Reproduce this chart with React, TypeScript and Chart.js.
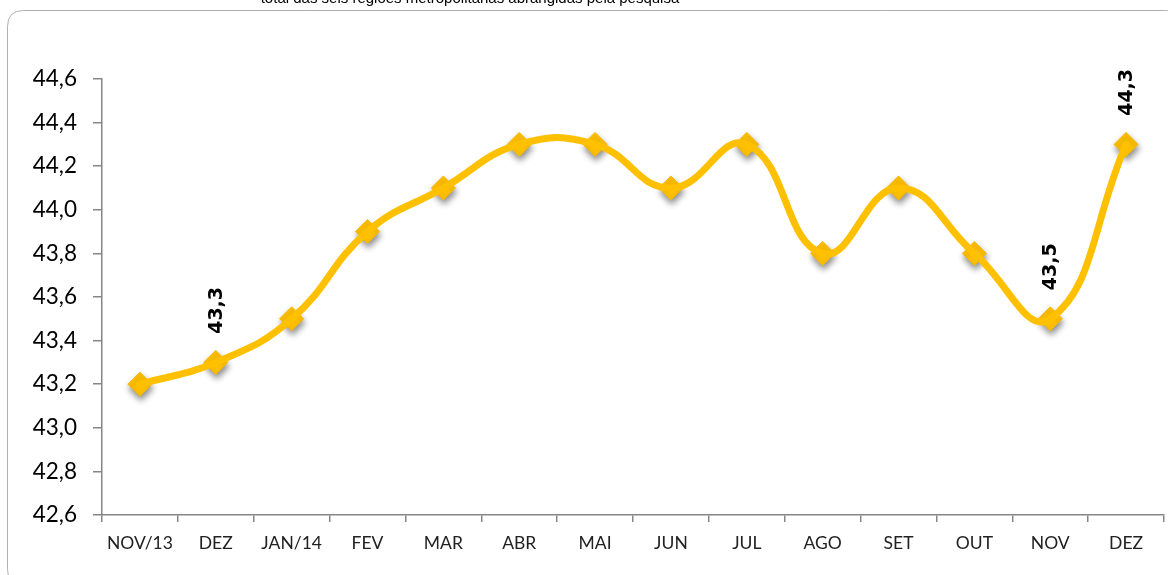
import React, { useEffect, useRef } from "react";
import { Chart, registerables } from "chart.js";

Chart.register(...registerables);

const categories = ["NOV/13", "DEZ", "JAN/14", "FEV", "MAR", "ABR", "MAI", "JUN", "JUL", "AGO", "SET", "OUT", "NOV", "DEZ"];
const values = [43.2, 43.3, 43.5, 43.9, 44.1, 44.3, 44.3, 44.1, 44.3, 43.8, 44.1, 43.8, 43.5, 44.3];
const labeledIndexes = [1, 12, 13];
const yMin = 42.6;
const yMax = 44.6;
const yStep = 0.2;
const titleText = "total das seis regiões metropolitanas abrangidas pela pesquisa";

const LINE_COLOR = "#FFC000";

const framePlugin = {
  id: "frame",
  beforeDraw(chart: any) {
    const ctx = chart.ctx;
    ctx.save();
    ctx.fillStyle = "#ffffff";
    ctx.fillRect(0, 0, chart.width, chart.height);
    const x = 7.5, y = 10.5, w = 1175, h = 575, r = 16;
    ctx.strokeStyle = "#b0b0b0";
    ctx.lineWidth = 1;
    ctx.beginPath();
    ctx.moveTo(x + r, y);
    ctx.lineTo(x + w - r, y);
    ctx.quadraticCurveTo(x + w, y, x + w, y + r);
    ctx.lineTo(x + w, y + h - r);
    ctx.quadraticCurveTo(x + w, y + h, x + w - r, y + h);
    ctx.lineTo(x + r, y + h);
    ctx.quadraticCurveTo(x, y + h, x, y + h - r);
    ctx.lineTo(x, y + r);
    ctx.quadraticCurveTo(x, y, x + r, y);
    ctx.stroke();
    ctx.fillStyle = "#000000";
    ctx.font = "15px 'Liberation Sans', Arial, sans-serif";
    ctx.textAlign = "center";
    ctx.textBaseline = "alphabetic";
    ctx.fillText(titleText, 470, 3);
    ctx.restore();
  },
  beforeDatasetDraw(chart: any, args: any) {
    if (args.index === 1) {
      const ctx = chart.ctx;
      ctx.save();
      ctx.shadowColor = "rgba(0,0,0,0.45)";
      ctx.shadowBlur = 6;
      ctx.shadowOffsetX = 1;
      ctx.shadowOffsetY = 4;
    }
  },
  afterDatasetDraw(chart: any, args: any) {
    if (args.index === 1) {
      chart.ctx.restore();
    }
  },
  afterDatasetsDraw(chart: any) {
    const ctx = chart.ctx;
    const meta = chart.getDatasetMeta(1);
    ctx.save();
    ctx.fillStyle = "#000000";
    ctx.font = "bold 19px 'DejaVu Sans', sans-serif";
    ctx.textAlign = "center";
    ctx.textBaseline = "middle";
    labeledIndexes.forEach((i) => {
      const pt = meta.data[i];
      const txt = values[i].toFixed(1).replace(".", ",");
      ctx.save();
      ctx.translate(pt.x + 1, pt.y - 52);
      ctx.rotate(-Math.PI / 2);
      ctx.fillText(txt, 0, 0);
      ctx.restore();
    });
    ctx.restore();
  },
};

export default function App() {
  const ref = useRef<HTMLCanvasElement>(null);

  useEffect(() => {
    const canvas = ref.current!;
    const chart = new Chart(canvas, {
      type: "line",
      data: {
        labels: categories,
        datasets: [
          {
            data: values,
            borderColor: LINE_COLOR,
            borderWidth: 7,
            tension: 0.45,
            pointRadius: 0,
            fill: false,
            borderCapStyle: "round",
            borderJoinStyle: "round",
          },
          {
            data: values,
            showLine: false,
            pointStyle: "rectRot",
            pointRadius: 12,
            pointBackgroundColor: "#FFC000",
            pointBorderColor: "#F7BA00",
            pointBorderWidth: 1,
          },
        ],
      },
      options: {
        animation: false,
        responsive: false,
        maintainAspectRatio: false,
        events: [],
        layout: { autoPadding: false, padding: { left: 0, right: 4, top: 79, bottom: 0 } },
        plugins: {
          legend: { display: false },
          title: { display: false },
          tooltip: { enabled: false },
        },
        scales: {
          x: {
            type: "category",
            offset: true,
            grid: {
              offset: true,
              drawOnChartArea: false,
              drawTicks: true,
              tickLength: 7,
              color: "#868686",
              lineWidth: 1.5,
            },
            border: { display: true, color: "#868686", width: 1.5 },
            ticks: {
              color: "#222222",
              font: { family: "Lato", size: 17.5 },
              padding: 11,
              maxRotation: 0,
              autoSkip: false,
            },
            afterFit: (s: any) => {
              s.height = 60;
            },
          },
          y: {
            min: yMin,
            max: yMax,
            grid: {
              drawOnChartArea: false,
              drawTicks: true,
              tickLength: 9,
              color: "#868686",
              lineWidth: 1.5,
            },
            border: { display: true, color: "#868686", width: 1.5 },
            ticks: {
              stepSize: yStep,
              color: "#000000",
              font: { family: "Lato", size: 22.5 },
              padding: 16,
              callback: (v: any) => Number(v).toFixed(1).replace(".", ","),
            },
            afterFit: (s: any) => {
              s.width = 102;
            },
          },
        },
      },
      plugins: [framePlugin],
    });
    return () => chart.destroy();
  }, []);

  return (
    <div style={{ position: "fixed", left: 0, top: 0, width: 1168, height: 575, background: "#fff" }}>
      <canvas ref={ref} width={1168} height={575} style={{ display: "block", width: 1168, height: 575 }} />
    </div>
  );
}
